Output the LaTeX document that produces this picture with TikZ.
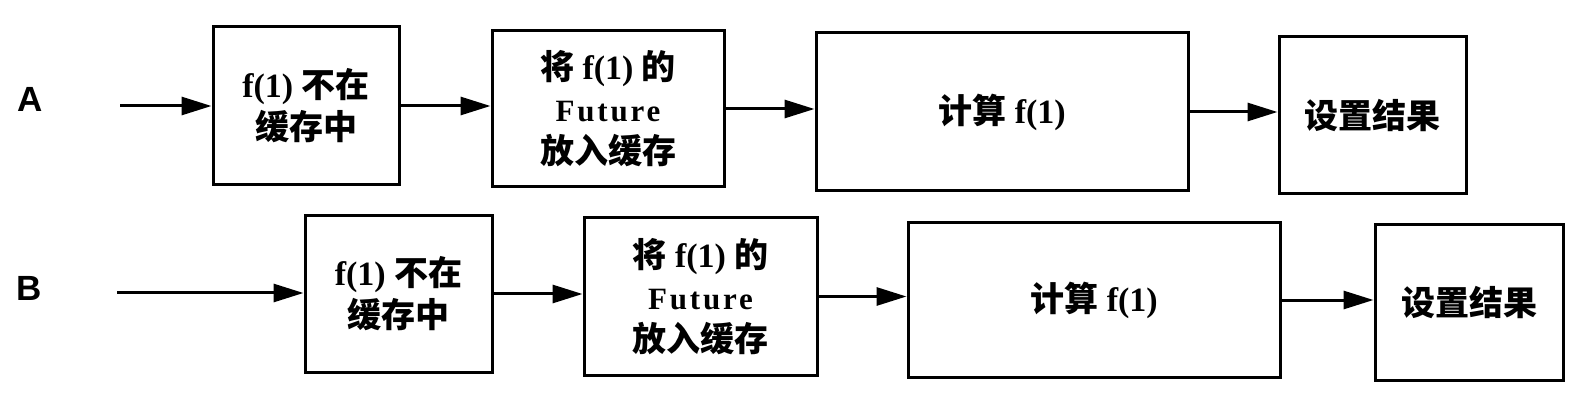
\documentclass[tikz,border=0pt]{standalone}
\usepackage{fontspec}
\usetikzlibrary{arrows.meta}
\setmainfont{Liberation Serif}
\newfontfamily\cjk{Noto Sans CJK SC}[Scale=1.0]
\newfontfamily\lbl{Liberation Sans}
\newcommand{\futw}{{\fontsize{31}{42}\selectfont\addfontfeatures{LetterSpace=9}Future}}
\tikzset{
  box/.style={draw, line width=3pt, align=center, inner sep=0pt,
    font=\fontsize{34}{42}\selectfont\bfseries},
  arr/.style={line width=3pt, -{Triangle[length=30pt,width=18pt]}},
  rowlabel/.style={font=\lbl\bfseries\fontsize{35}{35}\selectfont}
}
\begin{document}
\begin{tikzpicture}[x=1pt,y=-1pt]
\useasboundingbox (0,0) rectangle (1579,403);
% row A
\node[rowlabel] (la) at (30,99) {A};
\coordinate (sa) at (120,106);
\node[box, minimum width=186, minimum height=158] (a1) at (306,106) {f(1) {\cjk 不在}\\{\cjk 缓存中}};
\node[box, minimum width=232, minimum height=156] (a2) at (608,109) {{\cjk 将} f(1) {\cjk 的}\\\futw\\{\cjk 放入缓存}};
\node[box, minimum width=372, minimum height=158] (a3) at (1002,112) {{\cjk 计算} f(1)};
\node[box, minimum width=187, minimum height=157] (a4) at (1372.5,115.5) {{\cjk 设置结果}};
\draw[arr] (sa) -- (sa -| a1.west);
\draw[arr] (a1.east) -- (a1.east -| a2.west);
\draw[arr] (a2.east) -- (a2.east -| a3.west);
\draw[arr] (a3.east) -- (a3.east -| a4.west);
% row B
\node[rowlabel] (lb) at (29,288) {B};
\coordinate (sb) at (117,293);
\node[box, minimum width=187, minimum height=156] (b1) at (398.5,294) {f(1) {\cjk 不在}\\{\cjk 缓存中}};
\node[box, minimum width=233, minimum height=157] (b2) at (700.5,296.5) {{\cjk 将} f(1) {\cjk 的}\\\futw\\{\cjk 放入缓存}};
\node[box, minimum width=372, minimum height=154] (b3) at (1094,300) {{\cjk 计算} f(1)};
\node[box, minimum width=188, minimum height=155] (b4) at (1469,302.5) {{\cjk 设置结果}};
\draw[arr] (sb) -- (sb -| b1.west);
\draw[arr] (b1.east) -- (b1.east -| b2.west);
\draw[arr] (b2.east) -- (b2.east -| b3.west);
\draw[arr] (b3.east) -- (b3.east -| b4.west);
\end{tikzpicture}
\end{document}
